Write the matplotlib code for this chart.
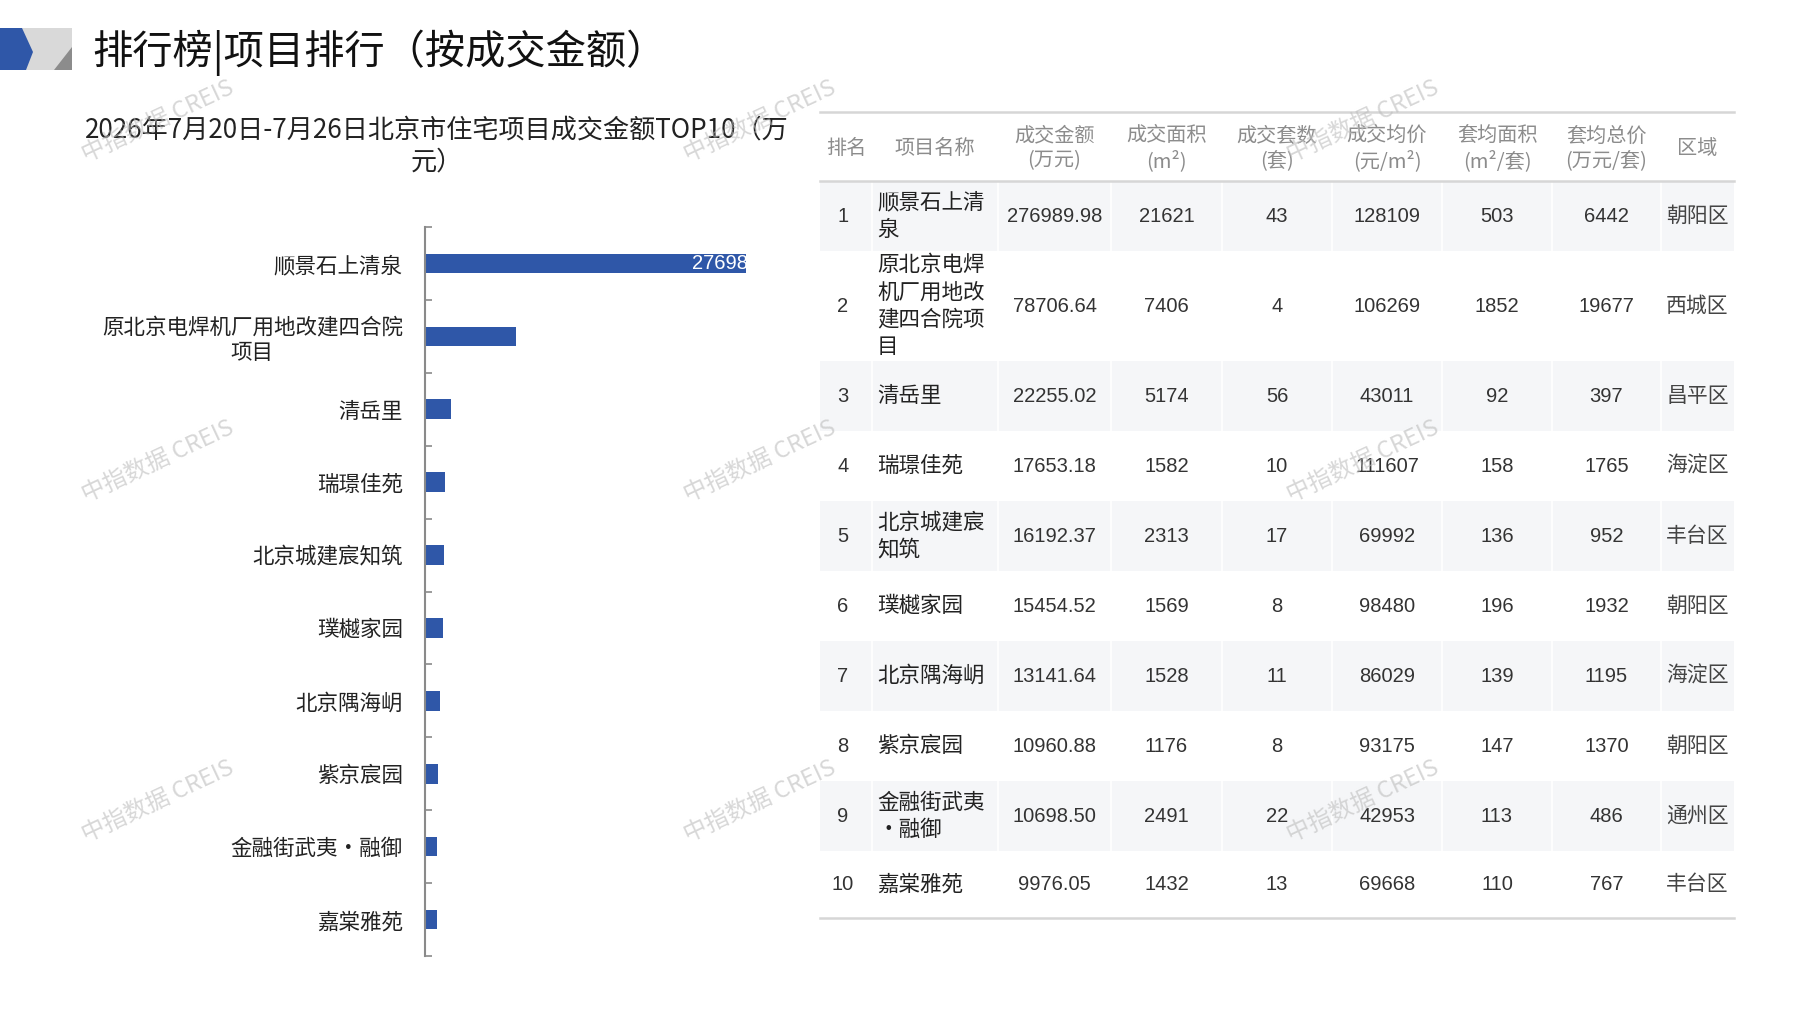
import numpy as np
import matplotlib
matplotlib.use('Agg')
import matplotlib.pyplot as plt
from matplotlib import font_manager
from matplotlib.patches import Polygon, Rectangle
from matplotlib.transforms import offset_copy

cjk = ['Noto Sans CJK SC', 'DejaVu Sans']
plt.rcParams['font.family'] = cjk
installed = {f.name for f in font_manager.fontManager.ttflist}
num_family = 'Liberation Sans Narrow' if 'Liberation Sans Narrow' in installed else 'Liberation Sans'
num_size = 18 if num_family == 'Liberation Sans Narrow' else 14.5

# ---- data ----
bar_names = ['顺景石上清泉', '原北京电焊机厂用地改建四合院\n项目', '清岳里', '瑞璟佳苑',
             '北京城建宸知筑', '璞樾家园', '北京隅海岄', '紫京宸园', '金融街武夷·融御', '嘉棠雅苑']
amount = [276989.98, 78706.64, 22255.02, 17653.18, 16192.37,
          15454.52, 13141.64, 10960.88, 10698.50, 9976.05]

rank = [str(i) for i in range(1, 11)]
table_names = ['顺景石上清\n泉', '原北京电焊\n机厂用地改\n建四合院项\n目', '清岳里', '瑞璟佳苑',
               '北京城建宸\n知筑', '璞樾家园', '北京隅海岄', '紫京宸园', '金融街武夷\n·融御', '嘉棠雅苑']
amount_txt = ['276989.98', '78706.64', '22255.02', '17653.18', '16192.37',
              '15454.52', '13141.64', '10960.88', '10698.50', '9976.05']
area = [21621, 7406, 5174, 1582, 2313, 1569, 1528, 1176, 2491, 1432]
units = [43, 4, 56, 10, 17, 8, 11, 8, 22, 13]
avg_price = [128109, 106269, 43011, 111607, 69992, 98480, 86029, 93175, 42953, 69668]
avg_area = [503, 1852, 92, 158, 136, 196, 139, 147, 113, 110]
avg_total = [6442, 19677, 397, 1765, 952, 1932, 1195, 1370, 486, 767]
district = ['朝阳区', '西城区', '昌平区', '海淀区', '丰台区', '朝阳区', '海淀区', '朝阳区', '通州区', '丰台区']
headers = ['排名', '项目名称', '成交金额\n(万元)', '成交面积\n(m²)', '成交套数\n(套)',
           '成交均价\n(元/m²)', '套均面积\n(m²/套)', '套均总价\n(万元/套)', '区域']

W, H = 1797, 1010
fig = plt.figure(figsize=(W / 100, H / 100), dpi=100)

# overlay axes in pixel coordinates
ov = fig.add_axes([0, 0, 1, 1])
ov.set_xlim(0, W)
ov.set_ylim(H, 0)
ov.axis('off')

# logo + title
ov.add_patch(Rectangle((0, 28), 72, 42, color='#d9d9d9', lw=0))
ov.add_patch(Polygon([(54, 70), (72, 47), (72, 70)], closed=True, color='#8c8c8c', lw=0))
ov.add_patch(Polygon([(0, 28), (22, 28), (33, 52), (26, 70), (0, 70)], closed=True,
                     color='#2f57a8', lw=0))
ov.text(92, 53, '排行榜|项目排行（按成交金额）', fontsize=29, va='center', ha='left', color='#111111')

# subtitle
fig.text(437 / W, 1 - 146 / H, '2026年7月20日-7月26日北京市住宅项目成交金额TOP10（万\n元）',
         fontsize=18.8, ha='center', va='center', multialignment='center',
         linespacing=1.25, color='#222222')

# ---- bar chart ----
ax = fig.add_axes([425 / W, 1 - 956 / H, (746 - 425) / W, (956 - 227) / H])
ax.patch.set_visible(False)
y = np.arange(len(bar_names))
ax.barh(y, amount, height=0.27, color='#2f57a8')
ax.set_xlim(0, max(amount))
ax.set_ylim(len(bar_names) - 0.5, -0.5)
ax.set_yticks(y)
ax.set_yticklabels(bar_names, fontsize=15.5, color='#222222', multialignment='center')
ax.tick_params(axis='y', which='major', length=0, pad=16)
ax.set_yticks(np.arange(-0.5, len(bar_names), 1), minor=True)
ax.tick_params(axis='y', which='minor', direction='in', length=5, width=1.2, color='#8a8a8a')
ax.set_xticks([])
for s in ['top', 'right', 'bottom']:
    ax.spines[s].set_visible(False)
ax.spines['left'].set_color('#8a8a8a')
ax.spines['left'].set_linewidth(1.5)
lbl = ax.text(amount[0], 0, f'{amount[0]:.2f}',
              transform=offset_copy(ax.transData, fig=fig, x=-54, y=0, units='dots'),
              ha='left', va='center', color='white', fontsize=14.5, family=num_family)
lbl.set_clip_on(True)
lbl.set_clip_box(ax.bbox)

# ---- table ----
col_edges = [820, 872, 998, 1111, 1222, 1332, 1442, 1552, 1661, 1734]
col_mid = [(a + b) / 2 for a, b in zip(col_edges[:-1], col_edges[1:])]
row_h = [70, 110, 70, 70, 70, 70, 70, 70, 70, 67]
top_line, head_bot = 112, 181
row_top = head_bot + np.concatenate([[0], np.cumsum(row_h)[:-1]])
row_mid = row_top + np.array(row_h) / 2
tab_bot = head_bot + sum(row_h)

for i in range(0, 10, 2):
    ov.add_patch(Rectangle((col_edges[0], row_top[i]), col_edges[-1] - col_edges[0], row_h[i],
                           color='#f5f6f8', lw=0))
    for xe in col_edges[1:-1]:
        ov.plot([xe, xe], [row_top[i], row_top[i] + row_h[i]], color='white', lw=1.2)

for yl in [top_line, head_bot, tab_bot]:
    ov.plot([col_edges[0], col_edges[-1]], [yl, yl], color='#d6d6d6', lw=1.8)

for j, h in enumerate(headers):
    ov.text(col_mid[j], (top_line + head_bot) / 2 + 2, h, ha='center', va='center',
            multialignment='center', fontsize=14.5, color='#8c8c8c', linespacing=1.25)

num_cols = [amount_txt, area, units, avg_price, avg_area, avg_total]
for i in range(10):
    ym = row_mid[i]
    ov.text(col_mid[0] - 3, ym, rank[i], ha='center', va='center', fontsize=num_size,
            family=num_family, color='#333333')
    ov.text(col_edges[1] + 5, ym, table_names[i], ha='left', va='center', fontsize=15.5,
            color='#222222', linespacing=1.3)
    for k, col in enumerate(num_cols):
        ov.text(col_mid[k + 2], ym, str(col[i]), ha='center', va='center', fontsize=num_size,
                family=num_family, color='#333333')
    ov.text(col_mid[8], ym, district[i], ha='center', va='center', fontsize=15, color='#444444')

# watermarks (drawn on top of everything)
for wx in [158, 760, 1363]:
    for wy in [121, 461, 801]:
        fig.text(wx / W, 1 - wy / H, '中指数据 CREIS', fontsize=17, color='#bdbdbd', alpha=0.6,
                 rotation=25, ha='center', va='center', zorder=10)

fig.savefig('out.png', dpi=100)
